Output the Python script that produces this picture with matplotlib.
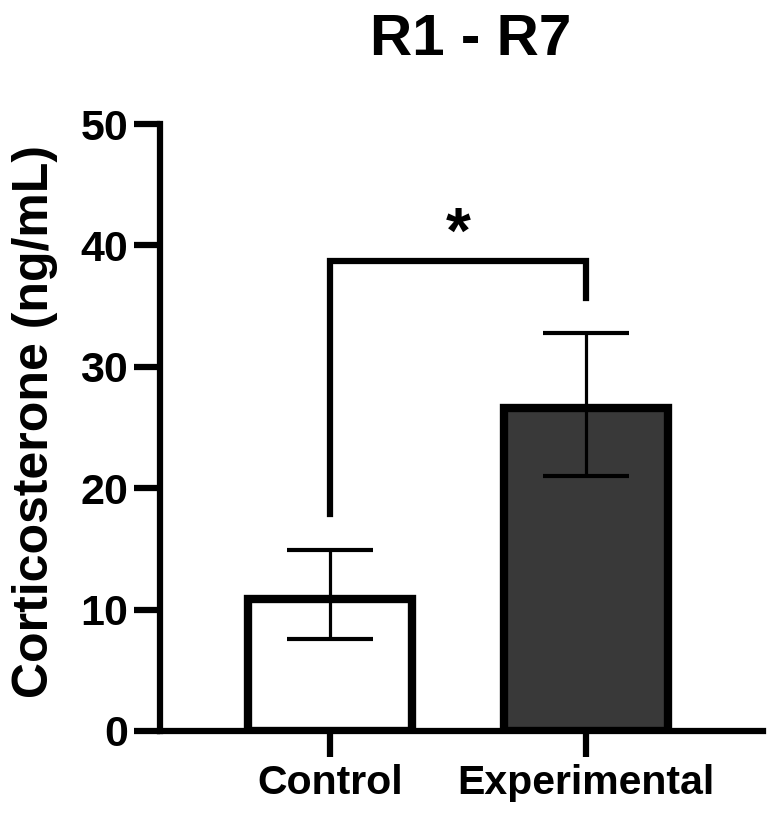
import matplotlib.pyplot as plt

font = 'Liberation Sans'
plt.rcParams['font.family'] = [font, 'DejaVu Sans']
plt.rcParams['font.weight'] = 'bold'

groups = ['Control', 'Experimental']
means = [10.9, 26.6]
err_low = [7.6, 21.0]
err_high = [14.9, 32.8]
colors = ['white', '#393939']
bracket_y = 38.7
bracket_legs = [17.9, 35.7]
star_y = 40.8

fig = plt.figure(figsize=(7.68, 8.19), dpi=100)
ax = fig.add_axes([160/768, 1 - 731/819, (763 - 160)/768, (731 - 124)/819])

x = list(range(len(groups)))
ax.bar(x, means, width=0.64, color=colors, edgecolor='black', linewidth=6, zorder=2)

lo = [m - l for m, l in zip(means, err_low)]
hi = [h - m for m, h in zip(means, err_high)]
ax.errorbar(x, means, yerr=[lo, hi], fmt='none', ecolor='black', elinewidth=2.3,
            capsize=31, capthick=3, zorder=3)

# significance bracket
ax.plot([x[0], x[0], x[1], x[1]], [bracket_legs[0], bracket_y, bracket_y, bracket_legs[1]],
        color='black', lw=4.5, solid_joinstyle='miter', clip_on=False, zorder=4)
ax.text((x[0] + x[1]) / 2, star_y, '*', ha='center', va='center', fontsize=46, fontweight='bold')

ax.set_ylim(0, 50)
ax.set_xlim(-0.664, 1.69)
ax.set_yticks([0, 10, 20, 30, 40, 50])
ax.set_xticks(x)
ax.set_xticklabels(groups)

for s in ['top', 'right']:
    ax.spines[s].set_visible(False)
for s in ['left', 'bottom']:
    ax.spines[s].set_linewidth(4.5)

ax.tick_params(axis='y', length=19, width=4.5, labelsize=31, pad=4)
ax.tick_params(axis='x', length=19, width=4.5, labelsize=29.5, pad=5)
for lab in ax.get_xticklabels() + ax.get_yticklabels():
    lab.set_fontweight('bold')

fig.text(35/768, 1 - 421/819, 'Corticosterone (ng/mL)', rotation=90, ha='center', va='center',
         fontsize=36, fontweight='bold')
fig.text(471/768, 1 - 55/819, 'R1 - R7', ha='center', va='baseline', fontsize=42, fontweight='bold')

fig.savefig('out.png', dpi=100)
